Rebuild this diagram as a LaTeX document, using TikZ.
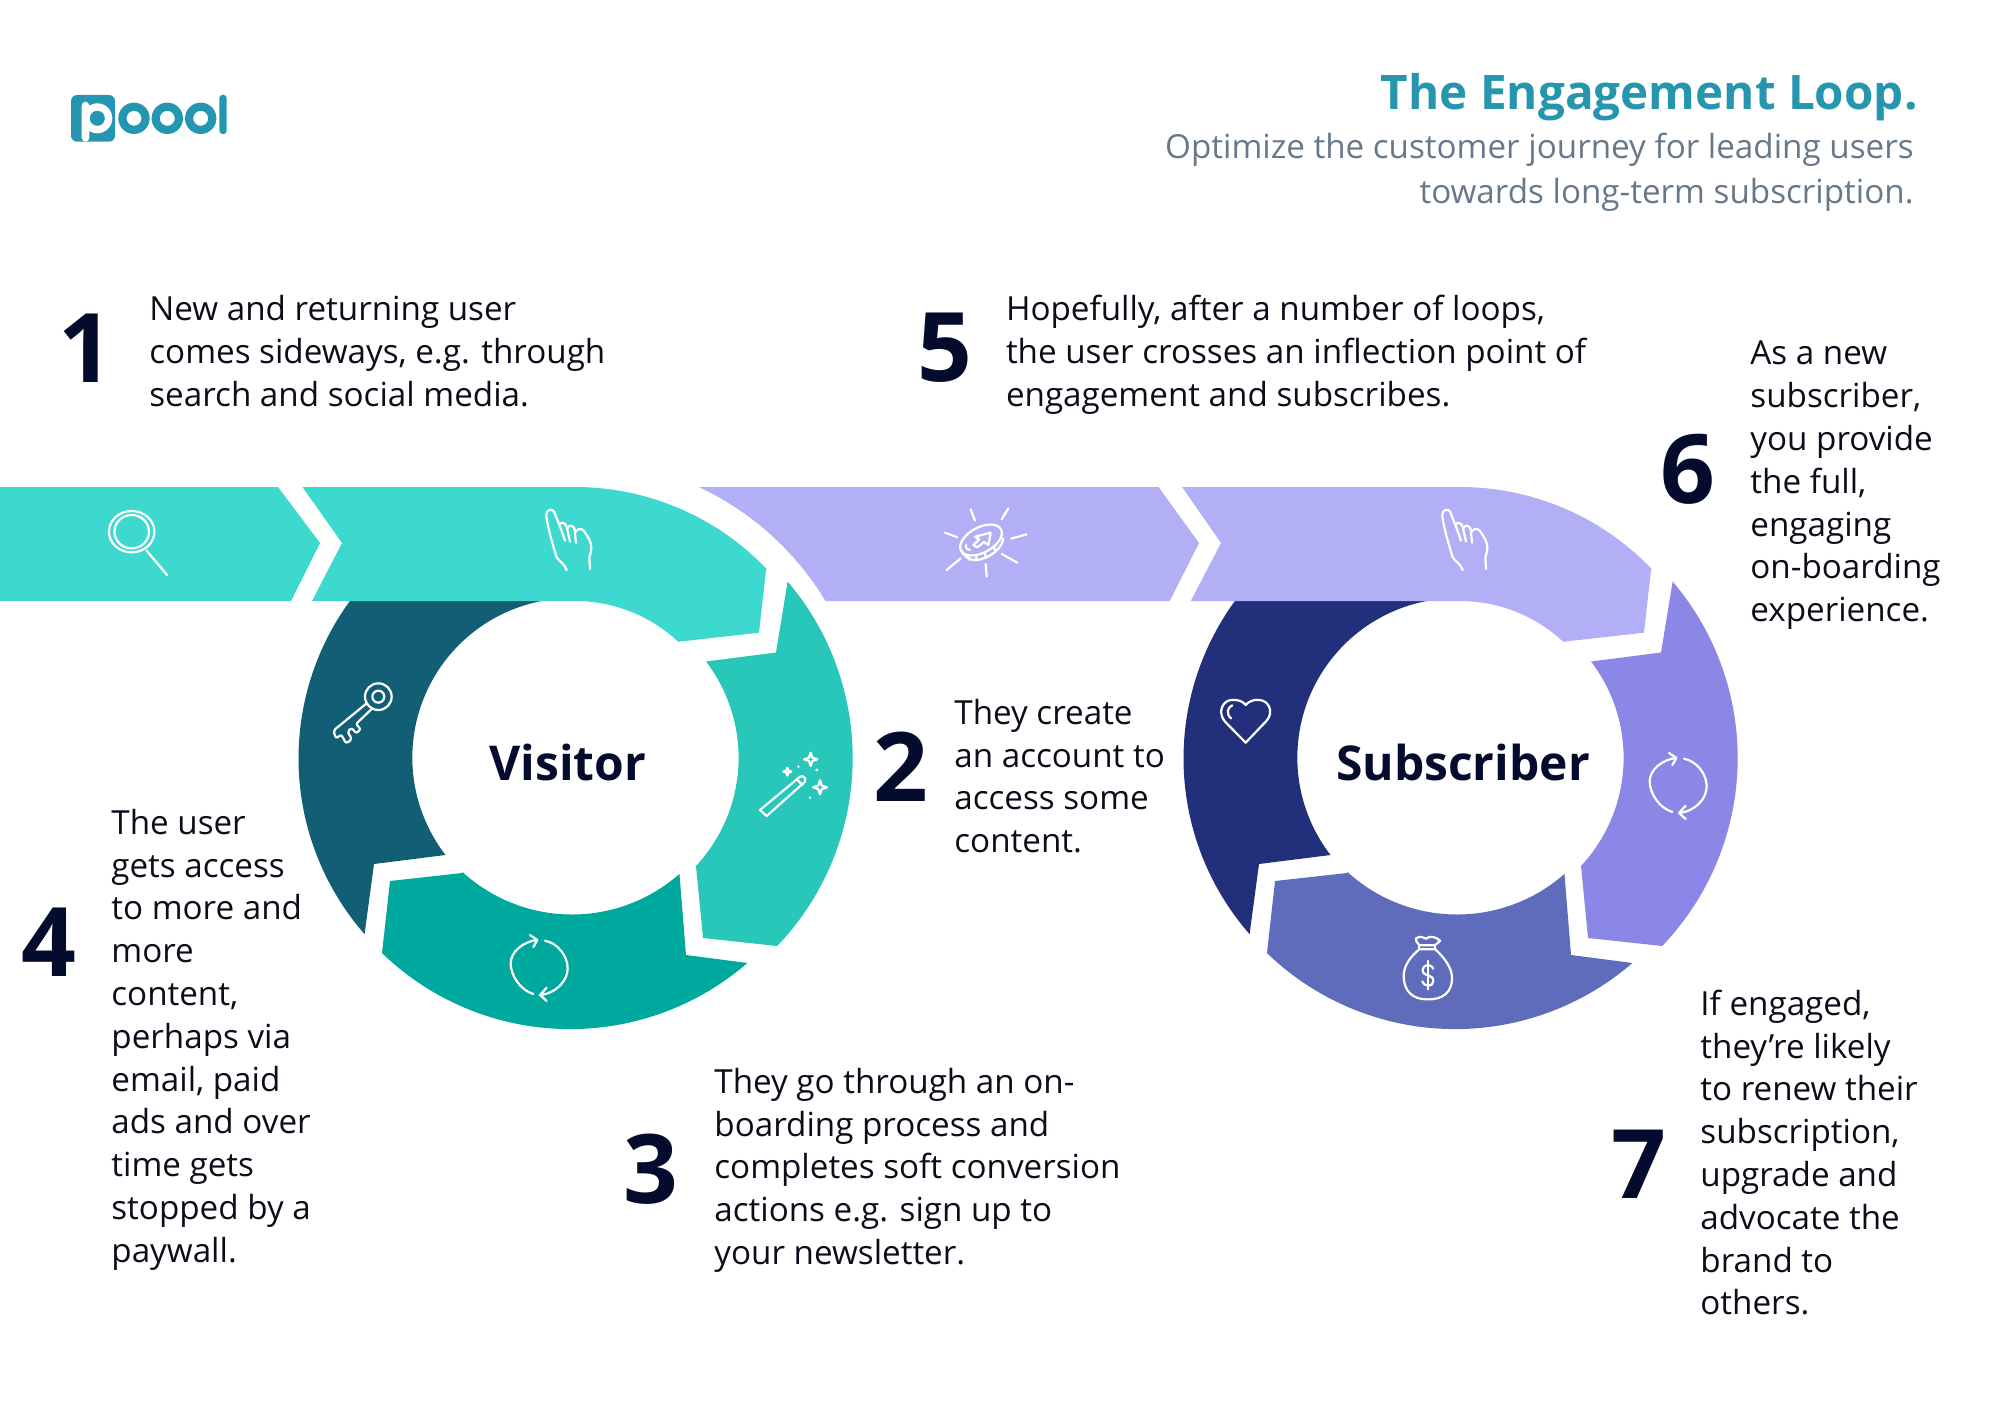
\documentclass[tikz,border=0pt]{standalone}
\usepackage{fontspec}
\setmainfont{Open Sans}
\definecolor{ink}{HTML}{040C2E}
\definecolor{bodyC}{HTML}{0C0C1A}
\definecolor{titleC}{HTML}{2596AE}
\definecolor{subC}{HTML}{66788A}
\definecolor{logoC}{HTML}{2596B2}
\definecolor{tealA}{HTML}{3DD9CE}
\definecolor{tealB}{HTML}{29C6BA}
\definecolor{tealC}{HTML}{00A99D}
\definecolor{tealD}{HTML}{125F75}
\definecolor{purA}{HTML}{B3AFF6}
\definecolor{purB}{HTML}{8B87E6}
\definecolor{purC}{HTML}{5F6BBB}
\definecolor{purD}{HTML}{222F7A}
\newcommand{\arcto}[5]{-- plot[domain=#4:#5,samples=70]({#1+#3*cos(\x)},{#2+#3*sin(\x)})}
\newcommand{\starfour}[3]{(#1,#2-#3) -- (#1+.25*#3,#2-.25*#3) -- (#1+#3,#2) -- (#1+.25*#3,#2+.25*#3) -- (#1,#2+#3) -- (#1-.25*#3,#2+.25*#3) -- (#1-#3,#2) -- (#1-.25*#3,#2-.25*#3) -- cycle}
\newcommand{\handicon}{%
 \draw[iconline] (110,210) .. controls (103,190) and (88,185) .. (80,172) .. controls (70,140) and (55,90) .. (49,50) .. controls (47,25) and (70,22) .. (75,42) -- (92,85) -- (105,122);
 \draw[iconline] (88,75) .. controls (92,65) and (105,66) .. (110,80) -- (120,125);
 \draw[iconline] (112,85) .. controls (116,74) and (130,74) .. (134,88) -- (138,128);
 \draw[iconline] (138,95) .. controls (145,82) and (160,84) .. (168,102) .. controls (182,125) and (190,135) .. (178,172) -- (180,207);
}
\newcommand{\cycleicon}{%
 \draw[iconline] (100,207) .. controls (60,195) and (32,150) .. (32,115) .. controls (32,80) and (70,50) .. (110,45);
 \draw[iconline] (90,30) -- (112,45) -- (100,66);
 \draw[iconline] (135,47) .. controls (175,55) and (203,95) .. (203,130) .. controls (203,170) and (165,205) .. (122,210);
 \draw[iconline] (140,188) -- (120,210) -- (140,228);
}
\tikzset{
 x=.5pt,y=-.5pt,
 iconline/.style={white,line width=1.1pt,line cap=round,line join=round},
 body/.style={font=\fontsize{16.6}{21.4}\selectfont,text=bodyC,align=left,inner sep=0pt,anchor=north west},
 bignum/.style={font=\fontsize{48}{50}\selectfont\bfseries,text=ink,inner sep=0pt},
 hubtext/.style={font=\fontsize{24}{26}\selectfont\bfseries,text=ink,inner sep=0pt},
}
\begin{document}
\begin{tikzpicture}
\useasboundingbox (0,0) rectangle (2000,1413);
% ---- logo
\fill[logoC,rounded corners=3pt] (71,95) rectangle (115,141.7);
\fill[white,rounded corners=2pt] (81.7,101.7) -- (89.3,101.7) -- (89.3,112) -- (89.3,141.7) -- (81.7,141.7) -- cycle;
\fill[white] (97.3,118.3) circle[radius=15];
\fill[logoC] (97.3,118.3) circle[radius=7.5];
\fill[logoC,even odd rule] (134,118.3) circle[radius=15.7] (134,118.3) circle[radius=7.5];
\fill[logoC,even odd rule] (167.3,118.3) circle[radius=15.7] (167.3,118.3) circle[radius=7.5];
\fill[logoC,even odd rule] (200.7,118.3) circle[radius=15.7] (200.7,118.3) circle[radius=7.5];
\fill[logoC,rounded corners=1.8pt] (219.3,94.7) rectangle (226.7,134.2);
% ---- titles
\node[font=\fontsize{23.8}{26}\selectfont\bfseries,text=titleC,inner sep=0pt,anchor=east] (title) at (1918,97) {The Engagement Loop.};
\node[font=\fontsize{16.6}{22.5}\selectfont,text=subC,align=right,inner sep=0pt,anchor=north east] (subtitle) at (1914,126.5) {\strut Optimize the customer journey for leading users\\towards long-term subscription.};
% ---- entry arrows
\fill[tealA] (0,487) -- (278,487) -- (320,543) -- (291,601) -- (0,601) -- cycle;
\fill[purA] (699.6,487) -- (1158.4,487) -- (1199,543) -- (1169.7,601) -- (825,601) \arcto{575}{752}{292.5}{-31.1}{-65} -- cycle;
% ---- rings
\foreach \dx/\ca/\cb/\cc/\cd in {0/tealA/tealB/tealC/tealD,885/purA/purB/purC/purD}{
 \begin{scope}[xshift=\dx*.5pt]
 \fill[\cd] (350,601) \arcto{565.3}{758.4}{266.8}{216.2}{138.8} -- (374,864) -- (445.5,855) \arcto{571.8}{757.6}{159.5}{142.4}{259.2} -- cycle;
 \fill[\cb] (787.6,581.7) -- (776,652.5) -- (706,661.5) \arcto{580}{757.8}{158.6}{-37.4}{43} -- (703,938) -- (777,946) \arcto{580.9}{758}{271.8}{43.8}{-40.5} -- cycle;
 \fill[\cc] (390,881) -- (462,873) \arcto{572}{752}{162.5}{132.3}{48.6} -- (686,955) -- (747.4,963) \arcto{570.1}{758.3}{270.8}{49.1}{134} -- cycle;
 \ifnum\dx=0
 \fill[\ca] (302.5,487) -- (342,543) -- (312,601) -- (575,601) \arcto{575}{752}{151}{-90}{-46.9} -- (759,632.7) -- (766,570) \arcto{575}{752}{265}{-43.6}{-90} -- cycle;
 \else
 \fill[\ca] (297,487) -- (336,543) -- (305.7,601) -- (575,601) \arcto{575}{752}{151}{-90}{-46.9} -- (759,632.7) -- (766,570) \arcto{575}{752}{265}{-43.6}{-90} -- cycle;
 \fi
 \end{scope}
}
% ---- icons: magnifier
\draw[iconline] (131.7,531.7) ellipse[x radius=22.7,y radius=20.7];
\draw[iconline] (131.7,531.7) ellipse[x radius=17.3,y radius=16.7];
\draw[iconline] (146.7,550.7) -- (167.3,575.3);
% hands
\begin{scope}[shift={(530,500)},scale=1/3]\handicon\end{scope}
\begin{scope}[shift={(1426,500)},scale=1/3]\handicon\end{scope}
% cycles
\begin{scope}[shift={(500,925)},scale=1/3]\cycleicon\end{scope}
\begin{scope}[shift={(1639,743)},scale=1/3]\cycleicon\end{scope}
% key
\begin{scope}[shift={(320,670)},scale=1/3]
 \draw[iconline] (175,80) circle[radius=40];
 \draw[iconline] (175,80) circle[radius=18];
 \draw[iconline,rounded corners=1pt] (140,100) -- (40,182) -- (48,205) -- (64,194) -- (78,220) -- (96,208) -- (82,184) -- (96,174) -- (108,190) -- (122,178) -- (108,162) -- (156,116);
\end{scope}
% wand
\begin{scope}[shift={(750,740)},scale=1/3]
 \draw[iconline] (30,210) -- (50,228) -- (165,125) .. controls (168,112) and (160,106) .. (150,110) -- cycle;
 \draw[iconline] (140,118) -- (158,135);
 \draw[iconline] \starfour{182}{58}{20};
 \draw[iconline] \starfour{210}{142}{21};
 \draw[iconline] \starfour{112}{95}{12};
 \fill[white] (145,80) circle[radius=4];
 \fill[white] (200,90) circle[radius=5];
 \fill[white] (180,173) circle[radius=4];
\end{scope}
% coin
\begin{scope}[shift={(920,490)},scale=1/3]
 \draw[iconline,shift={(183,150)},rotate=28] (0,0) ellipse[x radius=68,y radius=38];
 \draw[iconline] (122,178) .. controls (128,195) and (145,212) .. (172,210) .. controls (205,205) and (245,180) .. (250,145);
 \draw[iconline] (145,200) -- (150,210);
 \draw[iconline] (168,195) -- (170,210);
 \draw[iconline] (195,190) -- (198,205);
 \draw[iconline] (222,170) -- (226,185);
 \draw[iconline] (212,128) -- (165,140) -- (178,148) -- (160,165) -- (172,172) -- (192,156) -- (205,165) -- cycle;
 \draw[iconline] (138,165) .. controls (136,175) and (142,180) .. (150,180);
 \draw[iconline] (152,58) -- (165,92);
 \draw[iconline] (265,55) -- (245,88);
 \draw[iconline] (75,128) -- (112,142);
 \draw[iconline] (320,133) -- (273,146);
 \draw[iconline] (122,205) -- (80,240);
 \draw[iconline] (245,192) -- (292,218);
 \draw[iconline] (197,222) -- (200,260);
\end{scope}
% heart
\begin{scope}[shift={(1215,690)},scale=1/3]
 \draw[iconline] (92,158) -- (30,95) .. controls (5,65) and (25,30) .. (50,30) .. controls (70,28) and (85,35) .. (92,45) .. controls (100,35) and (115,28) .. (132,30) .. controls (160,30) and (178,65) .. (155,92) -- cycle;
 \draw[iconline] (52,46) .. controls (38,50) and (32,72) .. (48,85);
\end{scope}
% money bag
\begin{scope}[shift={(1390,920)},scale=1/3]
 \draw[iconline] (88,88) .. controls (60,110) and (40,140) .. (41,170) .. controls (42,215) and (70,238) .. (110,238) .. controls (160,240) and (188,215) .. (186,170) .. controls (184,140) and (160,110) .. (136,88) -- cycle;
 \draw[iconline] (88,76) -- (134,76) -- (136,88);
 \draw[iconline] (88,76) -- (88,88);
 \draw[iconline] (88,76) .. controls (80,65) and (75,60) .. (78,55) .. controls (90,48) and (100,50) .. (108,56) .. controls (120,45) and (140,52) .. (150,62) .. controls (145,68) and (140,72) .. (134,76);
 \draw[iconline] (130,146) .. controls (120,128) and (98,135) .. (98,150) .. controls (98,172) and (130,160) .. (130,183) .. controls (130,200) and (105,203) .. (97,184);
 \draw[iconline] (113,122) -- (113,208);
\end{scope}
% ---- hub labels
\node[hubtext] (visitor) at (568,762) {Visitor};
\node[hubtext] (subscriber) at (1463,762) {Subscriber};
% ---- numbers
\node[bignum] (n1) at (86,348) {1};
\node[bignum] (n2) at (901,767) {2};
\node[bignum] (n3) at (651,1169) {3};
\node[bignum] (n4) at (49,942) {4};
\node[bignum] (n5) at (945,347.5) {5};
\node[bignum] (n6) at (1688,469.5) {6};
\node[bignum] (n7) at (1639,1164) {7};
% ---- body texts
\node[body] (t1) at (149,290.5) {\strut New and returning user\\comes sideways, e.g. through\\search and social media.};
\node[body] (t5) at (1005.6,290.5) {\strut Hopefully, after a number of loops,\\the user crosses an inflection point of\\engagement and subscribes.};
\node[body] (t6) at (1750,334.5) {\strut As a new\\subscriber,\\you provide\\the full,\\engaging\\on-boarding\\experience.};
\node[body] (t2) at (954,694) {\strut They create\\an account to\\access some\\content.};
\node[body] (t4) at (111,804) {\strut The user\\gets access\\to more and\\more\\content,\\perhaps via\\email, paid\\ads and over\\time gets\\stopped by a\\paywall.};
\node[body] (t3) at (714,1063) {\strut They go through an on-\\boarding process and\\completes soft conversion\\actions e.g. sign up to\\your newsletter.};
\node[body] (t7) at (1700,985) {\strut If engaged,\\they’re likely\\to renew their\\subscription,\\upgrade and\\advocate the\\brand to\\others.};
\end{tikzpicture}
\end{document}
